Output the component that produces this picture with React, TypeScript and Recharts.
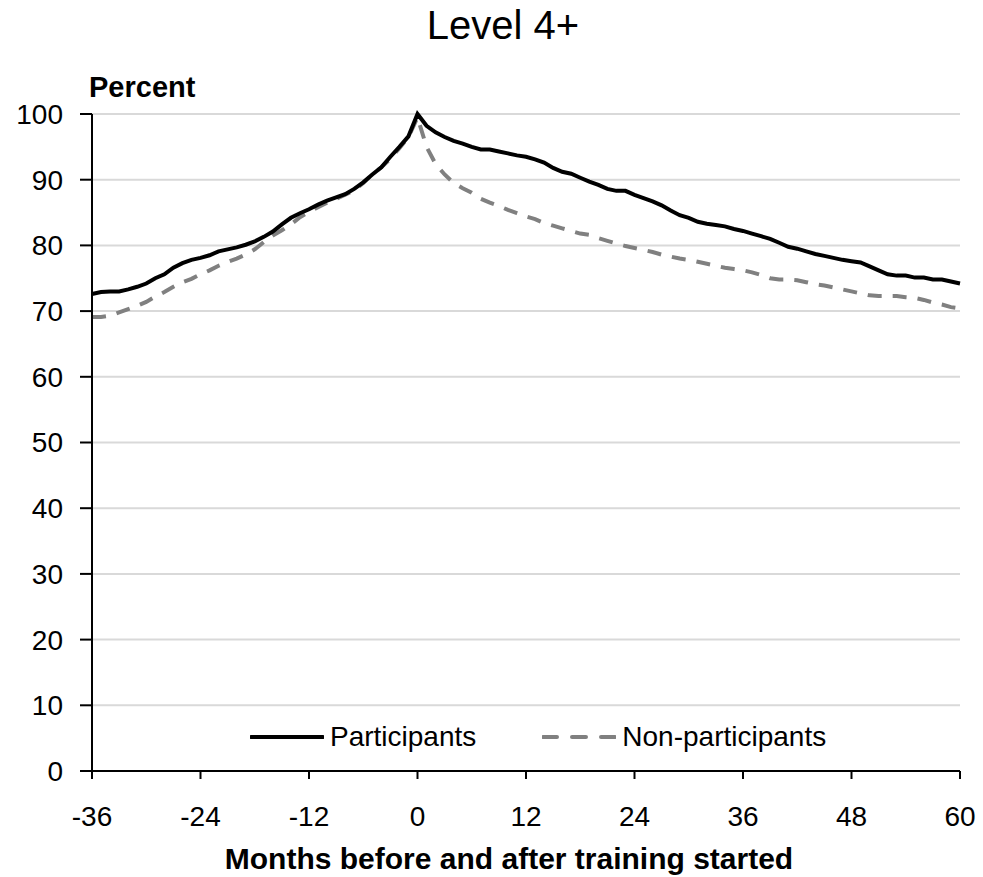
import {
  CartesianGrid,
  Line,
  LineChart,
  XAxis,
  YAxis,
} from 'recharts';

const FONT = '"Liberation Sans", Arial, sans-serif';

// months relative to the start of training
const months = [
  -36, -35, -34, -33, -32, -31, -30, -29, -28, -27, -26, -25,
  -24, -23, -22, -21, -20, -19, -18, -17, -16, -15, -14, -13,
  -12, -11, -10, -9, -8, -7, -6, -5, -4, -3, -2, -1,
  0, 1, 2, 3, 4, 5, 6, 7, 8, 9, 10, 11,
  12, 13, 14, 15, 16, 17, 18, 19, 20, 21, 22, 23,
  24, 25, 26, 27, 28, 29, 30, 31, 32, 33, 34, 35,
  36, 37, 38, 39, 40, 41, 42, 43, 44, 45, 46, 47,
  48, 49, 50, 51, 52, 53, 54, 55, 56, 57, 58, 59,
  60,
];

const participants = [
  72.6, 72.9, 73.0, 73.0, 73.3, 73.7, 74.2, 75.0, 75.6, 76.6, 77.3, 77.8,
  78.1, 78.5, 79.1, 79.4, 79.7, 80.1, 80.6, 81.3, 82.1, 83.2, 84.2, 84.9,
  85.5, 86.2, 86.8, 87.3, 87.8, 88.6, 89.6, 90.8, 91.9, 93.5, 95.0, 96.6,
  100.0, 98.2, 97.2, 96.5, 95.9, 95.5, 95.0, 94.6, 94.6, 94.3, 94.0, 93.7,
  93.5, 93.1, 92.6, 91.8, 91.2, 90.9, 90.3, 89.7, 89.2, 88.6, 88.3, 88.3,
  87.7, 87.2, 86.7, 86.1, 85.3, 84.6, 84.2, 83.6, 83.3, 83.1, 82.9, 82.5,
  82.2, 81.8, 81.4, 81.0, 80.4, 79.8, 79.5, 79.1, 78.7, 78.4, 78.1, 77.8,
  77.6, 77.4, 76.8, 76.2, 75.6, 75.4, 75.4, 75.1, 75.1, 74.8, 74.8, 74.5,
  74.2,
];

const nonParticipants = [
  69.1, 69.1, 69.3, 69.8, 70.3, 70.8, 71.4, 72.2, 72.9, 73.7, 74.4, 74.9,
  75.6, 76.2, 76.9, 77.5, 78.0, 78.6, 79.4, 80.5, 81.5, 82.3, 83.2, 84.3,
  85.1, 85.8, 86.5, 87.1, 87.7, 88.4, 89.5, 90.8, 91.9, 93.2, 94.8, 96.5,
  99.5, 95.0, 92.4, 90.8, 89.5, 88.7, 88.0, 87.1, 86.5, 86.0, 85.4, 84.9,
  84.4, 84.0, 83.4, 83.0, 82.6, 82.2, 81.8, 81.6, 81.1, 80.7, 80.3, 79.9,
  79.6, 79.3, 79.0, 78.6, 78.3, 78.0, 77.8, 77.5, 77.2, 76.9, 76.6, 76.4,
  76.2, 75.9, 75.5, 75.0, 74.8, 74.8, 74.7, 74.4, 74.1, 73.9, 73.6, 73.3,
  73.0, 72.7, 72.4, 72.3, 72.3, 72.3, 72.1, 72.0, 71.7, 71.3, 71.0, 70.6,
  70.4,
];

const xTicks = [-36, -24, -12, 0, 12, 24, 36, 48, 60];
const yTicks = [0, 10, 20, 30, 40, 50, 60, 70, 80, 90, 100];

const data = months.map((month, i) => ({
  month,
  participants: participants[i],
  nonParticipants: nonParticipants[i],
}));

const tickStyle = { fill: '#000', fontSize: 28, fontFamily: FONT };

function LegendBox() {
  const item = (label: string, color: string, dash?: string) => (
    <div style={{ display: 'flex', alignItems: 'center' }}>
      <svg width={74} height={10}>
        <line
          x1={1}
          y1={5}
          x2={73}
          y2={5}
          stroke={color}
          strokeWidth={4}
          strokeLinecap="round"
          strokeDasharray={dash}
        />
      </svg>
      <span style={{ marginLeft: 6, fontSize: 28, fontFamily: FONT, color: '#000', lineHeight: '32px' }}>
        {label}
      </span>
    </div>
  );
  return (
    <div style={{ position: 'absolute', top: 721, left: 250, display: 'flex', gap: 66 }}>
      {item('Participants', '#000')}
      {item('Non-participants', '#808080', '14 15')}
    </div>
  );
}

export default function App() {
  return (
    <div style={{ position: 'absolute', left: 0, top: 0, width: 983, height: 877, background: '#fff' }}>
      <LineChart
        width={983}
        height={877}
        data={data}
        margin={{ top: 114, right: 23, bottom: 0, left: 0 }}
        style={{ position: 'absolute', left: 0, top: 0 }}
      >
        <CartesianGrid vertical={false} stroke="#d9d9d9" strokeWidth={2} />
        <XAxis
          dataKey="month"
          type="number"
          domain={[-36, 60]}
          ticks={xTicks}
          interval={0}
          height={106}
          tick={tickStyle}
          tickSize={8}
          tickMargin={27}
          axisLine={{ stroke: '#000', strokeWidth: 2 }}
          tickLine={{ stroke: '#000', strokeWidth: 2 }}
        />
        <YAxis
          type="number"
          domain={[0, 100]}
          ticks={yTicks}
          interval={0}
          width={92}
          tick={tickStyle}
          tickSize={12}
          tickMargin={17}
          axisLine={{ stroke: '#000', strokeWidth: 2 }}
          tickLine={{ stroke: '#000', strokeWidth: 2 }}
        />
        <Line
          type="linear"
          dataKey="nonParticipants"
          name="Non-participants"
          stroke="#808080"
          strokeWidth={4}
          strokeDasharray="14 11"
          dot={false}
          isAnimationActive={false}
        />
        <Line
          type="linear"
          dataKey="participants"
          name="Participants"
          stroke="#000"
          strokeWidth={4}
          dot={false}
          isAnimationActive={false}
        />
      </LineChart>
      <div
        style={{
          position: 'absolute',
          left: 0,
          width: 1006,
          top: 2,
          textAlign: 'center',
          fontFamily: FONT,
          fontSize: 40,
          lineHeight: '46px',
        }}
      >
        Level 4+
      </div>
      <div
        style={{
          position: 'absolute',
          left: 89,
          top: 70,
          fontFamily: FONT,
          fontSize: 29,
          fontWeight: 'bold',
          lineHeight: '34px',
        }}
      >
        Percent
      </div>
      <LegendBox />
      <div
        style={{
          position: 'absolute',
          left: 0,
          width: 1018,
          top: 841,
          textAlign: 'center',
          fontFamily: FONT,
          fontSize: 30,
          fontWeight: 'bold',
          lineHeight: '35px',
        }}
      >
        Months before and after training started
      </div>
    </div>
  );
}
